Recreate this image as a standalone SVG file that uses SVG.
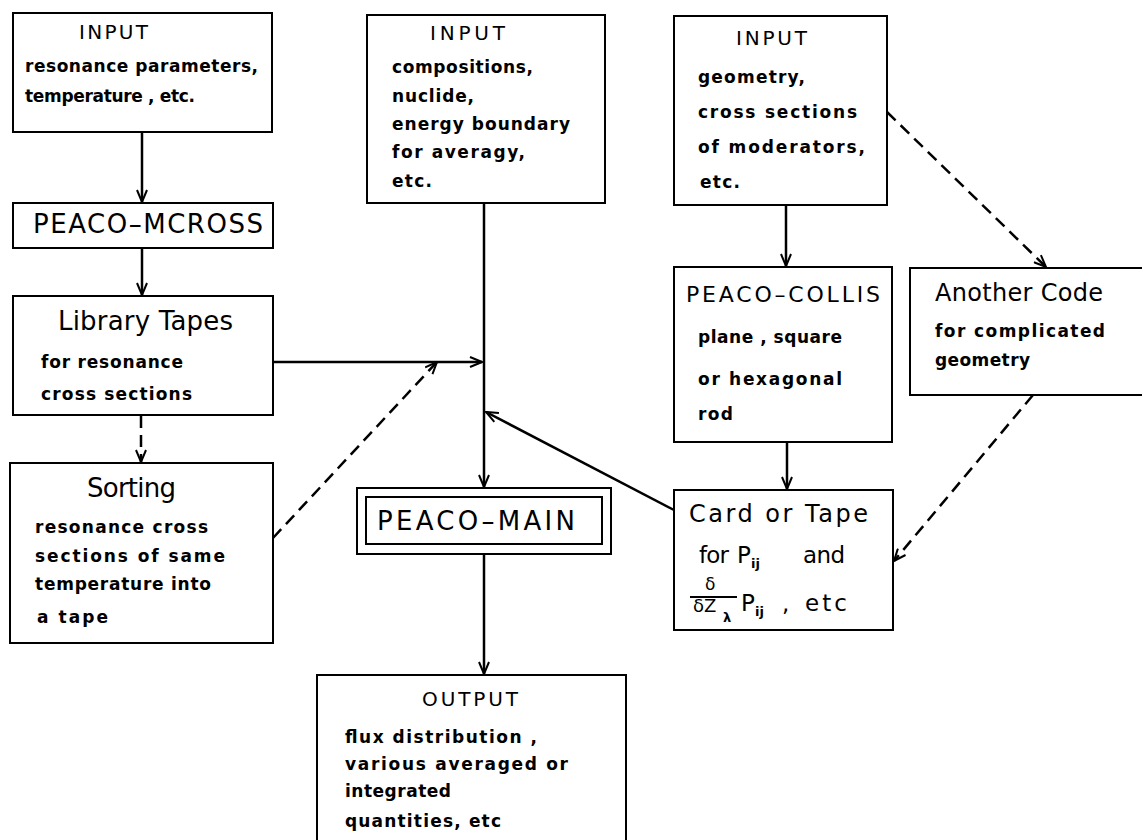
<svg xmlns="http://www.w3.org/2000/svg" width="1142" height="840" viewBox="0 0 1142 840">
<style>
.box{fill:#fff;stroke:#000;stroke-width:2}
.ln{fill:none;stroke:#000;stroke-width:2.5}
.dash{stroke-dasharray:12 7}
text{font-family:"DejaVu Sans","Liberation Sans",sans-serif;fill:#000}
.h{font-size:20px}
.b{font-size:17px;font-weight:bold}
.big{font-size:26px}
.mid{font-size:23px}
.sub{font-size:13px;font-weight:bold}
</style>
<defs>
<marker id="ah" viewBox="0 0 14 12" refX="13" refY="6" markerWidth="14" markerHeight="12" orient="auto" markerUnits="userSpaceOnUse">
<path d="M1,1 L13,6 L1,11" fill="none" stroke="#000" stroke-width="2"/>
</marker>
</defs>
<rect width="1142" height="840" fill="#fff"/>

<g id="connectors">
<line class="ln" x1="142" y1="132" x2="142" y2="202" marker-end="url(#ah)"/>
<line class="ln" x1="142" y1="248" x2="142" y2="295" marker-end="url(#ah)"/>
<line class="ln dash" x1="141" y1="416" x2="141" y2="462" marker-end="url(#ah)"/>
<line class="ln" x1="273" y1="362" x2="482" y2="362" marker-end="url(#ah)"/>
<line class="ln dash" x1="273" y1="538" x2="437" y2="362" marker-end="url(#ah)"/>
<line class="ln" x1="484" y1="203" x2="484" y2="487" marker-end="url(#ah)"/>
<line class="ln" x1="674" y1="510" x2="486" y2="412" marker-end="url(#ah)"/>
<line class="ln" x1="484" y1="554" x2="484" y2="674" marker-end="url(#ah)"/>
<line class="ln" x1="786" y1="205" x2="786" y2="266" marker-end="url(#ah)"/>
<line class="ln dash" x1="887" y1="112" x2="1046" y2="267" marker-end="url(#ah)"/>
<line class="ln" x1="787" y1="442" x2="787" y2="489" marker-end="url(#ah)"/>
<line class="ln dash" x1="1033" y1="395" x2="894" y2="561" marker-end="url(#ah)"/>
</g>

<g id="input1">
<rect class="box" x="13" y="13" width="259" height="119"/>
<text class="h" x="79" y="39" textLength="69" lengthAdjust="spacing">INPUT</text>
<text class="b" x="25" y="72" textLength="233" lengthAdjust="spacing">resonance parameters,</text>
<text class="b" x="25" y="102" textLength="170" lengthAdjust="spacing">temperature , etc.</text>
</g>

<g id="mcross">
<rect class="box" x="13" y="203" width="260" height="45"/>
<text class="big" x="33" y="233" textLength="230" lengthAdjust="spacing">PEACO–MCROSS</text>
</g>

<g id="library">
<rect class="box" x="13" y="296" width="260" height="119"/>
<text class="big" x="58" y="330" textLength="175" lengthAdjust="spacing">Library Tapes</text>
<text class="b" x="41" y="368" textLength="142" lengthAdjust="spacing">for resonance</text>
<text class="b" x="41" y="400" textLength="151" lengthAdjust="spacing">cross sections</text>
</g>

<g id="sorting">
<rect class="box" x="10" y="463" width="263" height="180"/>
<text class="big" x="87" y="497" textLength="89" lengthAdjust="spacing">Sorting</text>
<text class="b" x="35" y="533" textLength="173" lengthAdjust="spacing">resonance cross</text>
<text class="b" x="35" y="562" textLength="190" lengthAdjust="spacing">sections of same</text>
<text class="b" x="35" y="590" textLength="176" lengthAdjust="spacing">temperature into</text>
<text class="b" x="37" y="623" textLength="71" lengthAdjust="spacing">a tape</text>
</g>

<g id="input2">
<rect class="box" x="367" y="15" width="238" height="188"/>
<text class="h" x="430" y="40" textLength="75" lengthAdjust="spacing">INPUT</text>
<text class="b" x="392" y="73" textLength="141" lengthAdjust="spacing">compositions,</text>
<text class="b" x="392" y="102" textLength="82" lengthAdjust="spacing">nuclide,</text>
<text class="b" x="392" y="130" textLength="178" lengthAdjust="spacing">energy boundary</text>
<text class="b" x="392" y="158" textLength="133" lengthAdjust="spacing">for averagy,</text>
<text class="b" x="392" y="187" textLength="40" lengthAdjust="spacing">etc.</text>
</g>

<g id="input3">
<rect class="box" x="674" y="16" width="213" height="189"/>
<text class="h" x="736" y="45" textLength="71" lengthAdjust="spacing">INPUT</text>
<text class="b" x="698" y="83" textLength="107" lengthAdjust="spacing">geometry,</text>
<text class="b" x="698" y="118" textLength="159" lengthAdjust="spacing">cross sections</text>
<text class="b" x="698" y="153" textLength="167" lengthAdjust="spacing">of moderators,</text>
<text class="b" x="700" y="188" textLength="40" lengthAdjust="spacing">etc.</text>
</g>

<g id="collis">
<rect class="box" x="674" y="267" width="218" height="175"/>
<text class="mid" x="686" y="302" textLength="194" lengthAdjust="spacing" style="font-size:22px">PEACO–COLLIS</text>
<text class="b" x="698" y="343" textLength="144" lengthAdjust="spacing">plane , square</text>
<text class="b" x="698" y="385" textLength="144" lengthAdjust="spacing">or hexagonal</text>
<text class="b" x="698" y="420" textLength="35" lengthAdjust="spacing">rod</text>
</g>

<g id="another">
<rect class="box" x="910" y="268" width="240" height="127"/>
<text class="big" x="935" y="301" textLength="168" lengthAdjust="spacing" style="font-size:24px">Another Code</text>
<text class="b" x="935" y="337" textLength="170" lengthAdjust="spacing">for complicated</text>
<text class="b" x="935" y="366" textLength="95" lengthAdjust="spacing">geometry</text>
</g>

<g id="cardtape">
<rect class="box" x="674" y="490" width="219" height="140"/>
<text class="mid" x="689" y="522" textLength="179" lengthAdjust="spacing" style="font-size:24px">Card or Tape</text>
<text class="mid" x="699" y="563" textLength="30" lengthAdjust="spacing">for</text>
<text class="mid" x="737" y="563">P</text>
<text class="sub" x="751" y="568">ij</text>
<text class="mid" x="803" y="563" textLength="42" lengthAdjust="spacing">and</text>
<text x="705" y="590" style="font-size:17px">δ</text>
<line x1="690" y1="597" x2="737" y2="597" stroke="#000" stroke-width="2"/>
<text x="693" y="612" style="font-size:18px">δZ</text>
<text class="sub" x="723" y="622">λ</text>
<text class="mid" x="741" y="611">P</text>
<text class="sub" x="755" y="616">ij</text>
<text class="mid" x="782" y="611">,</text>
<text class="mid" x="805" y="611" textLength="42" lengthAdjust="spacing">etc</text>
</g>

<g id="main">
<rect class="box" x="357" y="488" width="254" height="66"/>
<rect class="box" x="366" y="497" width="236" height="47"/>
<text class="big" x="377" y="530" textLength="198" lengthAdjust="spacing">PEACO–MAIN</text>
</g>

<g id="output">
<rect class="box" x="317" y="675" width="309" height="180"/>
<text class="h" x="422" y="706" textLength="96" lengthAdjust="spacing">OUTPUT</text>
<text class="b" x="345" y="743" textLength="192" lengthAdjust="spacing">flux distribution ,</text>
<text class="b" x="345" y="770" textLength="223" lengthAdjust="spacing">various averaged or</text>
<text class="b" x="345" y="797" textLength="106" lengthAdjust="spacing">integrated</text>
<text class="b" x="345" y="827" textLength="156" lengthAdjust="spacing">quantities, etc</text>
</g>
</svg>
